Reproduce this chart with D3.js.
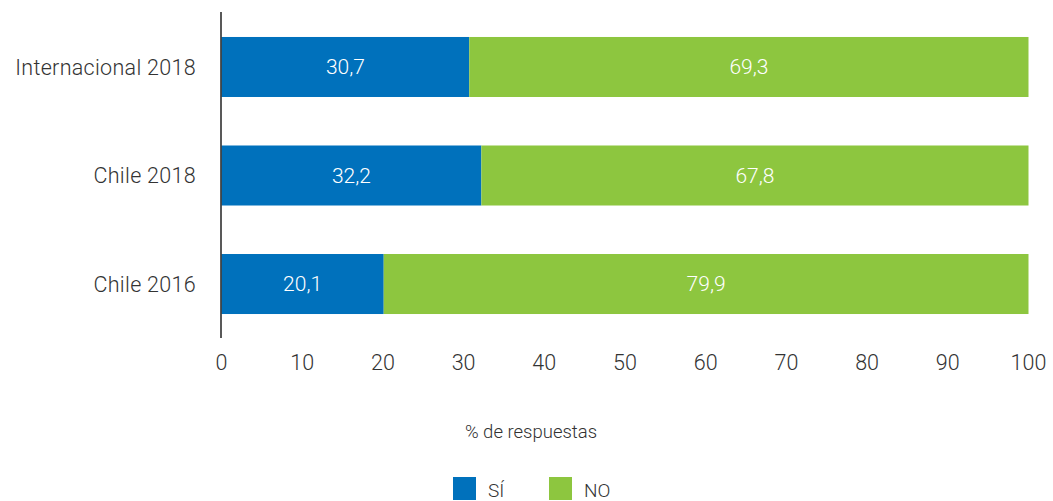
<!DOCTYPE html>
<html><head><meta charset="utf-8">
<script src="https://cdn.jsdelivr.net/npm/d3@7"></script>
<style>body{margin:0;background:#fff}svg{display:block}text{font-family:Roboto,"Open Sans",sans-serif;font-weight:300}</style>
</head><body>
<svg id="c" width="1053" height="501"></svg>
<script>
const categories = ["Internacional 2018", "Chile 2018", "Chile 2016"];
const si = [30.7, 32.2, 20.1];
const no = [69.3, 67.8, 79.9];
const seriesNames = ["SÍ", "NO"];
const colors = ["#0071bc", "#8dc63f"];
const xTicks = [0,10,20,30,40,50,60,70,80,90,100];

const svg = d3.select("#c");
const x = d3.scaleLinear().domain([0,100]).range([221.5, 1028.5]);
const y = d3.scaleBand().domain(categories).range([13, 338]).paddingInner(0.447).paddingOuter(0.221);

const rows = categories.map((c,i)=>({cat:c, vals:[si[i], no[i]]}));
const fmt = v => String(v.toFixed(1)).replace(".", ",");

rows.forEach(r=>{
  let acc = 0;
  r.vals.forEach((v,j)=>{
    const x0 = x(acc), x1 = x(acc+v);
    svg.append("rect").attr("x", x0).attr("y", y(r.cat)).attr("width", x1-x0).attr("height", y.bandwidth()).attr("fill", colors[j]);
    svg.append("text").attr("x",(x0+x1)/2).attr("y", y(r.cat)+y.bandwidth()/2).attr("dy","0.35em")
      .attr("text-anchor","middle").attr("fill","#fff").attr("font-size",21).text(fmt(v));
    acc += v;
  });
});

// y axis line and labels
svg.append("line").attr("x1",221).attr("x2",221).attr("y1",12).attr("y2",338).attr("stroke","#222").attr("stroke-width",1.5);
categories.forEach(c=>{
  svg.append("text").attr("x",196).attr("y",y(c)+y.bandwidth()/2).attr("dy","0.35em")
    .attr("text-anchor","end").attr("fill","#333").attr("font-size",21.5).attr("letter-spacing",0.3).text(c);
});

// x tick labels
xTicks.forEach(t=>{
  svg.append("text").attr("x",x(t)).attr("y",362).attr("dy","0.35em").attr("text-anchor","middle")
    .attr("fill","#333").attr("font-size",21.5).text(t);
});

svg.append("text").attr("x",531).attr("y",432).attr("dy","0.35em").attr("text-anchor","middle")
  .attr("fill","#333").attr("font-size",18.5).text("% de respuestas");

// legend
const lx = [453, 549];
seriesNames.forEach((n,i)=>{
  svg.append("rect").attr("x",lx[i]).attr("y",477).attr("width",23).attr("height",23).attr("fill",colors[i]);
  svg.append("text").attr("x",lx[i]+35).attr("y",490).attr("dy","0.35em").attr("fill","#333").attr("font-size",19).text(n);
});
</script>
</body></html>
